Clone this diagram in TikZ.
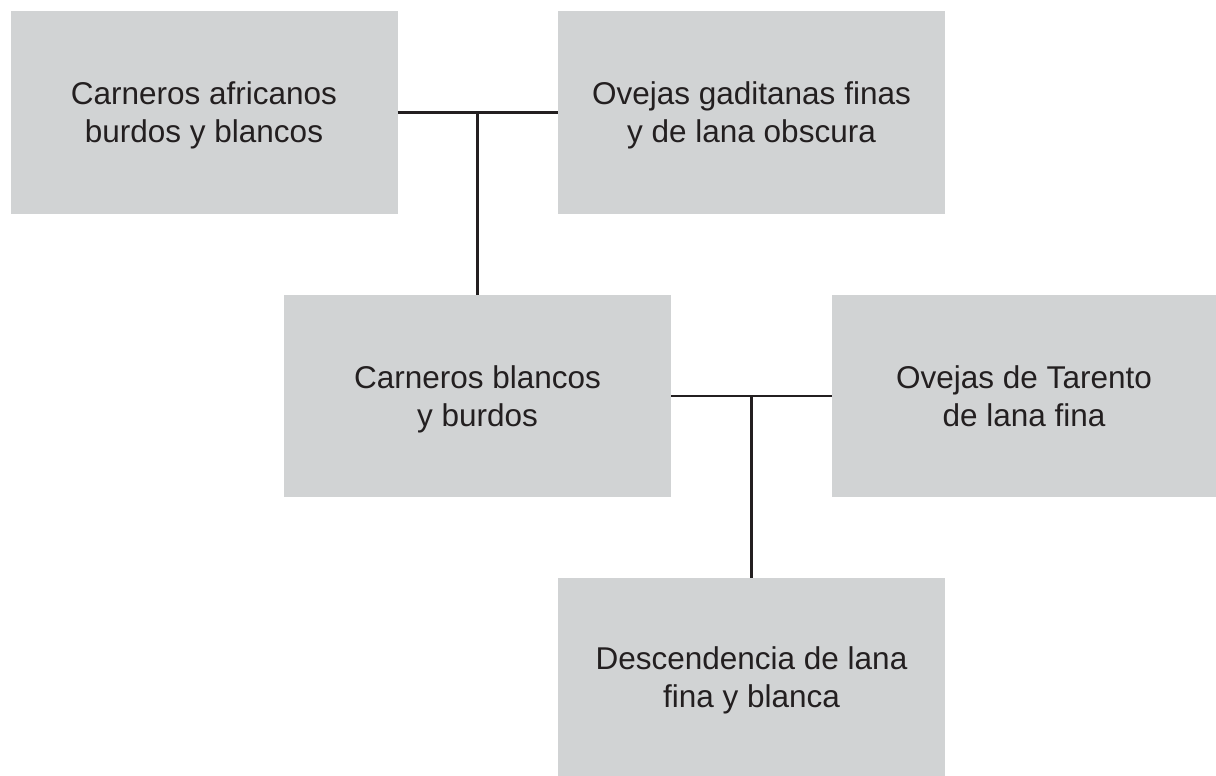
\documentclass[tikz,border=0pt]{standalone}
\usepackage{fontspec}
\setmainfont{Liberation Sans}
\usetikzlibrary{calc, positioning}
\definecolor{boxgray}{RGB}{209,211,212}
\definecolor{inkdark}{RGB}{35,31,32}

\begin{document}
\begin{tikzpicture}[x=1pt, y=-1pt,
    breed/.style={fill=boxgray, draw=none, inner sep=0pt, minimum width=387pt,
        minimum height=202pt, align=center, text=inkdark, text depth=0pt,
        font=\fontsize{31.5}{38}\selectfont},
    cross/.style={draw=inkdark, line width=2.5pt}]
    \useasboundingbox (0,0) rectangle (1216,776);

    % parents of the first cross
    \node[breed] (africanos) at (204,112.5) {Carneros africanos\\burdos y blancos};
    \node[breed] (gaditanas) at (751.5,112.5) {Ovejas gaditanas finas\\y de lana obscura};

    % first offspring and second cross
    \node[breed] (blancos) at (477.5,396) {Carneros blancos\\y burdos};
    \node[breed, minimum width=384pt] (tarento) at (1024,396) {Ovejas de Tarento\\de lana fina};

    % result
    \node[breed, minimum height=198pt] (descendencia) at (751.5,677) {Descendencia de lana\\fina y blanca};

    \draw[cross] (africanos.east) -- (gaditanas.west);
    \draw[cross] (blancos.north) -- (blancos.north |- africanos.east);
    \draw[cross] (blancos.east) -- (tarento.west);
    \draw[cross] (descendencia.north) -- (descendencia.north |- blancos.east);
\end{tikzpicture}
\end{document}
